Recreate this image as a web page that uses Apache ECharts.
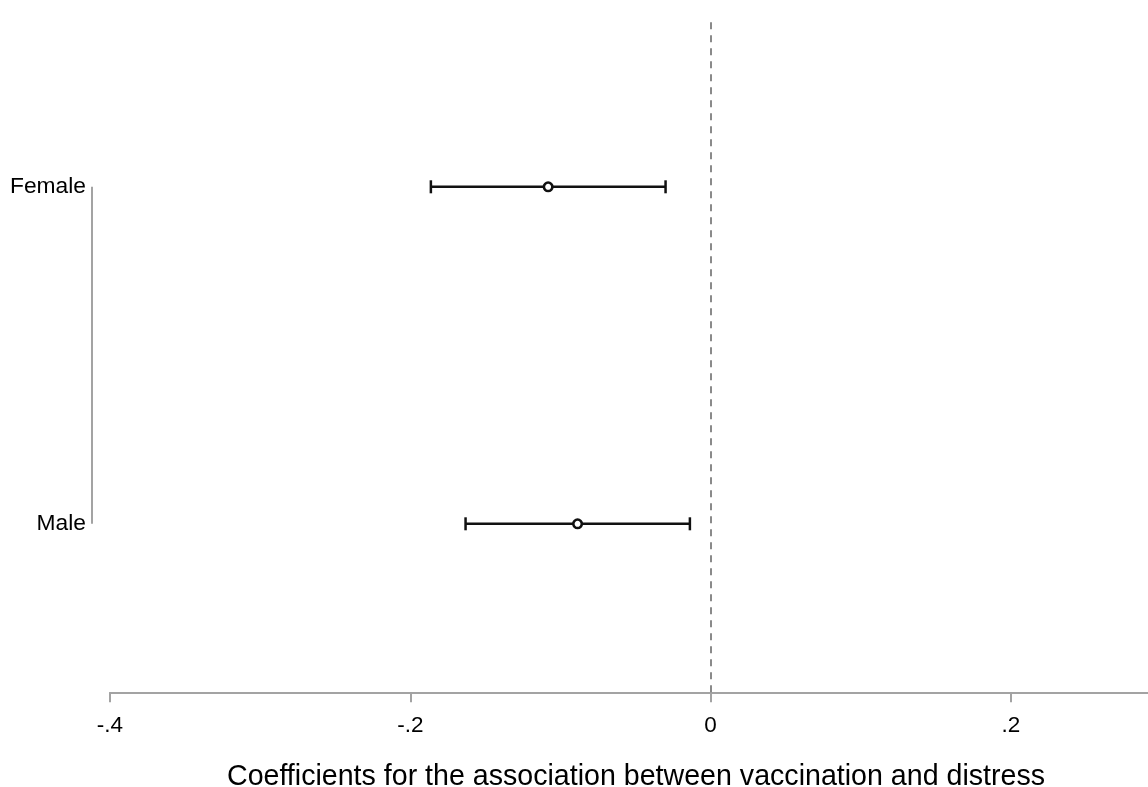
<!DOCTYPE html>
<html>
<head>
<meta charset="utf-8">
<script src="https://cdn.jsdelivr.net/npm/echarts@6/dist/echarts.min.js"></script>
<style>
  html, body { margin: 0; padding: 0; background: #fff; }
  #chart { width: 1148px; height: 787px; }
</style>
</head>
<body>
<div id="chart"></div>
<script>
// Groups and their position on the vertical scale
const groups = ['Male', 'Female'];
const groupPos = [1, 2];
// Point estimates and 95% confidence limits
const estimates = [-0.0886, -0.1082];
const lower = [-0.1632, -0.1863];
const upper = [-0.0138, -0.0300];
// Horizontal axis ticks
const xTicks = [-0.4, -0.2, 0, 0.2];

const FONT = 'Liberation Sans, Arial, sans-serif';
const AXIS_GRAY = '#a3a3a3';

function fmtTick(v) {
  const hit = xTicks.find(t => Math.abs(t - v) < 1e-9);
  if (hit === undefined) return '';
  if (hit === 0) return '0';
  return (hit < 0 ? '-' : '') + Math.abs(hit).toFixed(1).replace(/^0/, '');
}

const chart = echarts.init(document.getElementById('chart'), null, { renderer: 'canvas' });

chart.setOption({
  backgroundColor: '#ffffff',
  animation: false,
  grid: { left: 110, right: 0, top: 18.3, bottom: 94.7 },
  title: {
    text: 'Coefficients for the association between vaccination and distress',
    left: 631, top: 758, textAlign: 'center',
    textStyle: { fontFamily: FONT, fontSize: 28.6, fontWeight: 'normal', color: '#000' }
  },
  xAxis: {
    type: 'value', min: -0.4, max: 0.2913, interval: 0.2,
    axisLine: { show: true, lineStyle: { color: AXIS_GRAY, width: 2 } },
    axisTick: { show: true, length: 10, lineStyle: { color: AXIS_GRAY, width: 2 } },
    splitLine: { show: false },
    axisLabel: { formatter: fmtTick, color: '#000', fontFamily: FONT, fontSize: 22.5, margin: 22, showMaxLabel: false }
  },
  yAxis: {
    type: 'value', min: 0.5, max: 2.5, interval: 0.5,
    axisLine: { show: false }, axisTick: { show: false }, splitLine: { show: false },
    axisLabel: {
      formatter: v => { const i = groupPos.indexOf(v); return i >= 0 ? groups[i] : ''; },
      color: '#000', fontFamily: FONT, fontSize: 22.8, margin: 24
    }
  },
  series: [
    {
      // vertical axis line spanning the group positions, set off to the left of the plot
      type: 'custom', silent: true, clip: false,
      data: [[-0.4, groupPos[0], groupPos[groupPos.length - 1]]],
      renderItem: (params, api) => {
        const a = api.coord([api.value(0), api.value(1)]);
        const b = api.coord([api.value(0), api.value(2)]);
        const x = a[0] - 18;
        return { type: 'line', shape: { x1: x, y1: a[1], x2: x, y2: b[1] },
                 style: { stroke: AXIS_GRAY, lineWidth: 2 } };
      }
    },
    {
      // confidence intervals with end caps
      type: 'custom', silent: true,
      data: groupPos.map((p, i) => [lower[i], upper[i], p]),
      renderItem: (params, api) => {
        const l = api.coord([api.value(0), api.value(2)]);
        const r = api.coord([api.value(1), api.value(2)]);
        const h = 6.5;
        const st = { stroke: '#111', lineWidth: 2.5 };
        return { type: 'group', children: [
          { type: 'line', shape: { x1: l[0], y1: l[1], x2: r[0], y2: r[1] }, style: st },
          { type: 'line', shape: { x1: l[0], y1: l[1] - h, x2: l[0], y2: l[1] + h }, style: st },
          { type: 'line', shape: { x1: r[0], y1: r[1] - h, x2: r[0], y2: r[1] + h }, style: st }
        ] };
      },
      z: 2
    },
    {
      type: 'scatter', silent: true,
      data: groupPos.map((p, i) => [estimates[i], p]),
      symbol: 'circle', symbolSize: 8.5,
      itemStyle: { color: '#fff', borderColor: '#111', borderWidth: 2.6, opacity: 1 },
      z: 3,
      markLine: {
        silent: true, symbol: ['none', 'none'], label: { show: false },
        lineStyle: { color: '#8a8a8a', type: [7, 6], width: 2 },
        data: [{ xAxis: 0 }]
      }
    }
  ]
});
</script>
</body>
</html>
